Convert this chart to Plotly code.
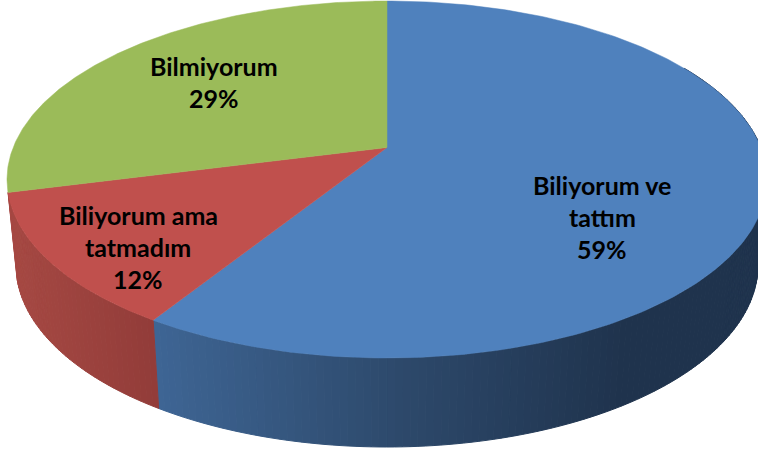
import numpy as np
import plotly.graph_objects as go

# Data (clockwise from 12 o'clock)
categories = ["Biliyorum ve tattım", "Biliyorum ama tatmadım", "Bilmiyorum"]
values = [58.9, 12.1, 29.0]
label_lines = [["Biliyorum ve", "tattım"], ["Biliyorum ama", "tatmadım"], ["Bilmiyorum"]]
top_colors = ["#4F81BD", "#C0504D", "#9BBB59"]
wall_color_stops = [
    [(160, (62, 101, 148)), (400, (45, 73, 107)), (620, (31, 51, 77)), (760, (31, 51, 77))],
    [(0, (168, 74, 68)), (160, (146, 60, 57))],
    [(0, (120, 145, 70)), (760, (120, 145, 70))],
]
label_centres = [(602, 185), (138, 215), (214, 66)]
LINE_STEP = 32

# Projection of the tilted disc on to the page (pixel-like axis units)
EX, EY, A, B, K = 387.0, 179.5, 380.0, 178.5, 0.1793
EY2, A2, B2 = 265.0, 371.0, 182.0


def project(theta, ey, a, b):
    X, Y = np.sin(theta), np.cos(theta)
    d = 1 + K * Y
    return EX + a * X * np.sqrt(1 - K ** 2) / d, ey - b * (Y + K) / d


def wall_colour(stops, x):
    xs = [s[0] for s in stops]
    rgb = [np.interp(x, xs, [s[1][i] for s in stops]) for i in range(3)]
    return "rgb(%d,%d,%d)" % tuple(int(round(c)) for c in rgb)


fig = go.Figure()
edges = np.cumsum([0] + values) / sum(values) * 2 * np.pi
apex_x, apex_y = EX, EY - B * K

# Side walls: drawn first, split into thin strips for the shading
for i in range(2):
    start = max(edges[i], np.radians(60))
    n = max(4, int((edges[i + 1] - start) / np.radians(1.0)))
    th = np.linspace(start, edges[i + 1], n + 1)
    for t0, t1 in zip(th[:-1], th[1:]):
        seg = np.array([t0, t1])
        xt, yt = project(seg, EY, A, B)
        xb, yb = project(seg, EY2, A2, B2)
        col = wall_colour(wall_color_stops[i], float(np.mean(xb)))
        fig.add_trace(go.Scatter(
            x=[xt[0], xt[1], xb[1], xb[0], xt[0]],
            y=[yt[0], yt[1], yb[1], yb[0], yt[0]],
            mode="lines", fill="toself", fillcolor=col,
            line=dict(color=col, width=1), hoverinfo="skip", showlegend=False))

# Top faces
for i, name in enumerate(categories):
    th = np.linspace(edges[i], edges[i + 1], 240)
    x, y = project(th, EY, A, B)
    fig.add_trace(go.Scatter(
        x=np.r_[apex_x, x, apex_x], y=np.r_[apex_y, y, apex_y],
        mode="lines", fill="toself", fillcolor=top_colors[i],
        line=dict(color=top_colors[i], width=0.5), name=name, showlegend=False,
        hoverinfo="name"))

# Labels
for i, lines in enumerate(label_lines):
    cx, cy = label_centres[i]
    for j, txt in enumerate(lines + [f"{round(values[i])}%"]):
        fig.add_annotation(x=cx, y=cy + j * LINE_STEP, text=f"<b>{txt}</b>", showarrow=False,
                           xanchor="center", yanchor="middle",
                           font=dict(family="Lato", size=25, color="#000000"))

fig.update_layout(
    width=758, height=453, margin=dict(l=0, r=0, t=0, b=0),
    paper_bgcolor="white", plot_bgcolor="white", showlegend=False,
    xaxis=dict(range=[0, 758], visible=False, fixedrange=True),
    yaxis=dict(range=[453, 0], visible=False, fixedrange=True),
)
fig.write_html("out.html", config={"displayModeBar": False},
               post_script="document.body.style.margin='0';document.body.style.overflow='hidden';")
